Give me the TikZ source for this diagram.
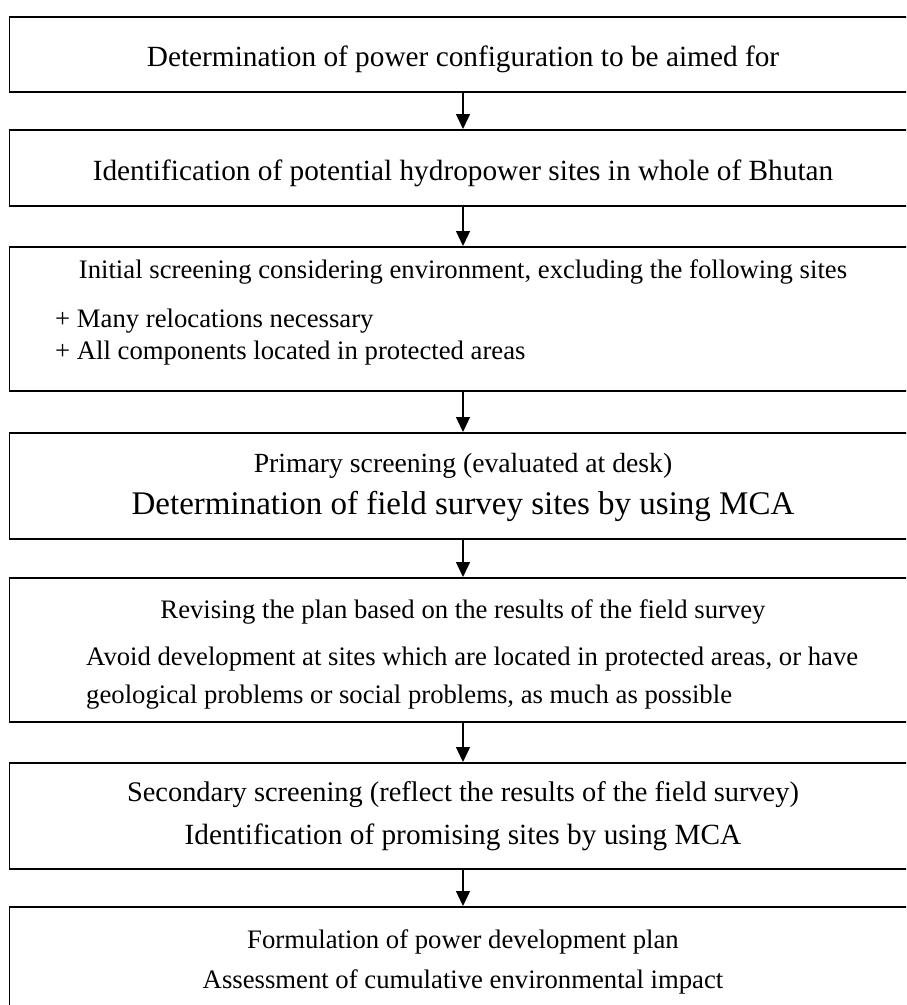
\documentclass[tikz,border=0pt]{standalone}
\usepackage{fontspec}
\setmainfont{Liberation Serif}
\usetikzlibrary{arrows.meta}

\tikzset{
  stagebox/.style={draw, line width=1.8pt, minimum width=907pt, inner sep=0pt, anchor=north},
  flow/.style={line width=1.3pt, -{Triangle[length=15pt,width=14pt]}},
  big/.style={inner sep=0pt, anchor=base, font=\fontsize{29.3pt}{32pt}\selectfont},
  txt/.style={inner sep=0pt, anchor=base, font=\fontsize{26.7pt}{30pt}\selectfont},
  txtl/.style={txt, anchor=base west},
}

\begin{document}
\begin{tikzpicture}[x=1pt, y=-1pt]
  \useasboundingbox (0,0) rectangle (906,1005);
  \clip (0,0) rectangle (906,1005);

  % stage frames, centred on x = 463 (right edge runs off the page)
  \node[stagebox, minimum height=75pt]  (b1) at (463,16)  {};
  \node[stagebox, minimum height=76pt]  (b2) at (463,129) {};
  \node[stagebox, minimum height=144pt] (b3) at (463,246) {};
  \node[stagebox, minimum height=106pt] (b4) at (463,432) {};
  \node[stagebox, minimum height=144pt] (b5) at (463,577) {};
  \node[stagebox, minimum height=106pt] (b6) at (463,762) {};
  \node[stagebox, minimum height=130pt] (b7) at (463,906) {};

  % texts
  \node[big] (t1) at (463,66.5) {Determination of power configuration to be aimed for};
  \node[big] (t2) at (463,180) {Identification of potential hydropower sites in whole of Bhutan};

  \node[txt]  (t3a) at (463,278) {Initial screening considering environment, excluding the following sites};
  \node[txtl] (t3b) at (55,327) {+ Many relocations necessary};
  \node[txtl] (t3c) at (55,359) {+ All components located in protected areas};

  \node[txt, font=\fontsize{27.7pt}{30pt}\selectfont] (t4a) at (463,472) {Primary screening (evaluated at desk)};
  \node[big, font=\fontsize{33pt}{36pt}\selectfont] (t4b) at (463,514) {Determination of field survey sites by using MCA};

  \node[txt]  (t5a) at (463,618) {Revising the plan based on the results of the field survey};
  \node[txtl] (t5b) at (86,665) {Avoid development at sites which are located in protected areas, or have};
  \node[txtl] (t5c) at (86,703) {geological problems or social problems, as much as possible};

  \node[txt, font=\fontsize{28.4pt}{30pt}\selectfont] (t6a) at (463,801) {Secondary screening (reflect the results of the field survey)};
  \node[big] (t6b) at (463,844) {Identification of promising sites by using MCA};

  \node[txt] (t7a) at (463,948) {Formulation of power development plan};
  \node[txt] (t7b) at (463,988) {Assessment of cumulative environmental impact};

  % arrows between stages
  \draw[flow] (b1.south) -- (b2.north);
  \draw[flow] (b2.south) -- (b3.north);
  \draw[flow] (b3.south) -- (b4.north);
  \draw[flow] (b4.south) -- (b5.north);
  \draw[flow] (b5.south) -- (b6.north);
  \draw[flow] (b6.south) -- (b7.north);
\end{tikzpicture}
\end{document}
